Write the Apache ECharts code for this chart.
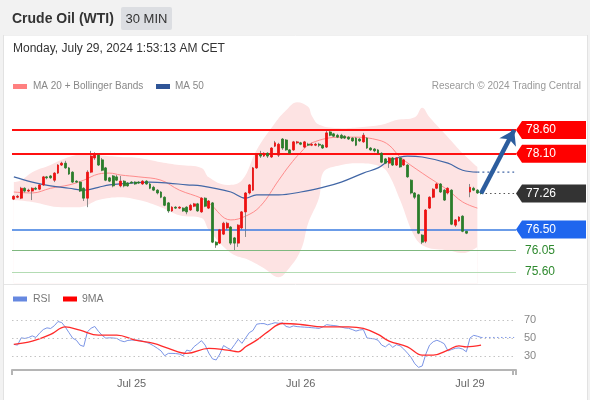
<!DOCTYPE html>
<html>
<head>
<meta charset="utf-8">
<script src="https://cdn.jsdelivr.net/npm/echarts@6/dist/echarts.min.js"></script>
<style>
  html, body { margin: 0; padding: 0; background: #f2f2f2; }
  #chart { width: 590px; height: 400px; }
</style>
</head>
<body>
<div id="chart"></div>
<script>
// 30 min candles, Jul 24 evening -> Jul 29 01:30 CET, plus empty slots for the projection
const slotCount = 137;
const dateTicks = { 32: 'Jul 25', 78: 'Jul 26', 124: 'Jul 29' };

// [open, close, low, high]
const candles = [
  [77.14,77.20,77.12,77.22],[77.18,77.20,77.16,77.23],[77.16,77.37,77.14,77.40],[77.37,77.31,77.28,77.39],
  [77.31,77.33,77.29,77.36],[77.31,77.37,77.12,77.39],[77.37,77.35,77.33,77.40],[77.35,77.44,77.33,77.46],
  [77.44,77.61,77.42,77.63],[77.61,77.59,77.56,77.63],[77.63,77.59,77.57,77.65],[77.54,77.69,77.50,77.71],
  [77.69,77.86,77.67,77.88],[77.86,77.90,77.84,77.93],[77.90,77.80,77.78,77.95],[77.80,77.67,77.65,77.82],
  [77.71,77.50,77.48,77.73],[77.52,77.50,77.48,77.54],[77.50,77.31,77.29,77.52],[77.37,77.16,77.10,77.39],
  [77.16,77.71,76.97,77.75],[77.71,78.05,77.69,78.16],[78.01,78.07,77.97,78.13],[78.07,77.86,77.84,78.09],
  [77.97,77.75,77.73,78.01],[77.80,77.54,77.52,77.82],[77.59,77.52,77.50,77.61],[77.63,77.42,77.39,77.65],
  [77.61,77.54,77.52,77.65],[77.42,77.52,77.39,77.63],[77.52,77.42,77.39,77.54],[77.48,77.42,77.40,77.50],
  [77.50,77.48,77.46,77.52],[77.50,77.46,77.44,77.52],[77.50,77.48,77.46,77.52],[77.46,77.52,77.44,77.54],
  [77.52,77.46,77.44,77.54],[77.46,77.37,77.35,77.48],[77.39,77.33,77.31,77.42],[77.33,77.27,77.24,77.35],
  [77.29,77.18,77.16,77.31],[77.18,77.01,76.99,77.20],[77.06,76.89,76.85,77.08],[76.89,76.97,76.87,76.99],
  [76.97,76.95,76.93,76.99],[76.95,76.97,76.93,76.99],[76.95,76.89,76.87,76.97],[76.97,76.87,76.82,76.99],
  [76.91,77.01,76.89,77.04],[76.99,77.04,76.97,77.06],[77.04,76.89,76.87,77.06],[76.87,77.16,76.85,77.18],
  [77.16,76.99,76.97,77.18],[76.95,77.10,76.93,77.12],[77.06,76.23,76.21,77.08],[76.23,76.17,76.11,76.25],
  [76.21,76.49,76.19,76.51],[76.40,76.63,76.38,76.66],[76.53,76.63,76.49,76.66],[76.55,76.21,76.17,76.57],
  [76.32,76.21,76.06,76.34],[76.21,76.59,76.13,76.61],[76.53,76.87,76.49,76.89],[76.87,77.27,76.34,77.29],
  [77.27,77.44,77.24,77.46],[77.33,77.80,77.31,77.82],[77.80,78.09,77.78,78.11],[78.09,78.05,78.01,78.16],
  [78.05,78.11,78.03,78.13],[78.11,78.05,78.01,78.13],[78.03,78.22,78.01,78.24],[78.26,78.33,78.24,78.37],
  [78.07,78.30,78.03,78.33],[78.41,78.22,78.18,78.43],[78.39,78.18,78.16,78.41],[78.18,78.11,78.09,78.20],
  [78.18,78.35,78.16,78.37],[78.33,78.35,78.30,78.37],[78.33,78.30,78.28,78.35],[78.24,78.35,78.22,78.37],
  [78.30,78.28,78.26,78.33],[78.28,78.30,78.26,78.33],[78.28,78.30,78.26,78.33],[78.30,78.28,78.24,78.33],
  [78.28,78.22,78.20,78.30],[78.24,78.54,78.22,78.58],[78.56,78.49,78.47,78.58],[78.52,78.47,78.45,78.54],
  [78.49,78.45,78.43,78.52],[78.49,78.43,78.41,78.52],[78.47,78.43,78.41,78.49],[78.45,78.41,78.39,78.47],
  [78.43,78.37,78.35,78.45],[78.43,78.28,78.26,78.45],[78.41,78.37,78.35,78.43],[78.35,78.49,78.33,78.54],
  [78.43,78.22,78.20,78.45],[78.22,78.18,78.16,78.24],[78.20,78.16,78.13,78.22],[78.18,78.11,78.09,78.20],
  [78.11,77.92,77.90,78.13],[77.99,77.90,77.88,78.01],[77.90,78.01,77.80,78.03],[78.01,77.86,77.84,78.03],
  [77.86,78.01,77.84,78.03],[78.01,77.82,77.80,78.03],[77.86,77.97,77.84,77.99],[77.86,77.61,77.59,77.88],
  [77.54,77.27,77.24,77.56],[77.27,77.18,77.14,77.29],[77.23,76.42,76.40,77.25],[76.38,76.23,76.19,76.40],
  [76.25,76.91,76.21,76.93],[76.95,77.18,76.93,77.20],[77.18,77.35,77.16,77.37],[77.37,77.46,77.35,77.48],
  [77.46,77.29,77.27,77.48],[77.33,77.12,77.10,77.35],[77.27,77.37,77.24,77.39],[77.33,76.61,76.59,77.35],
  [76.59,76.70,76.55,76.72],[76.68,76.76,76.66,76.78],[76.78,76.46,76.44,76.80],[76.46,76.42,76.40,76.47],
  [77.29,77.39,77.18,77.46],[77.37,77.33,77.31,77.40],[77.33,77.27,77.25,77.35],[77.27,77.26,77.24,77.28]
];

// [slot, value]
const bbUpper = [[0,77.50],[2,77.54],[5,77.71],[10,77.86],[13,77.97],[17,78.07],[21,78.11],[23,78.07],[29,78.03],
  [34,78.01],[40,77.92],[45,77.86],[51,77.80],[53,77.60],[58,77.44],[62,77.54],[66,78.18],[71,78.75],[74,79.02],
  [77,79.19],[80,79.09],[81,78.90],[83,78.71],[89,78.64],[94,78.66],[100,78.71],[104,78.81],[109,78.87],
  [111,79.07],[113,78.87],[118,78.45],[122,78.11],[126,77.82]];
const bbLower = [[0,77.12],[5,77.08],[13,76.97],[18,76.97],[23,77.12],[29,77.18],[34,77.12],[40,76.97],[45,76.80],
  [51,76.74],[53,76.49],[59,76.00],[64,75.85],[68,75.68],[72,75.49],[74,75.60],[78,76.06],[80,76.63],[83,77.18],
  [84,77.69],[89,77.86],[94,77.90],[100,77.82],[102,77.65],[105,77.12],[109,76.34],[112,76.13],[118,76.06],
  [122,76.00],[126,76.13]];
const ma20 = [[0,77.29],[5,77.27],[10,77.37],[15,77.44],[19,77.54],[23,77.67],[26,77.69],[29,77.65],[34,77.61],
  [40,77.54],[45,77.33],[51,77.16],[53,77.06],[59,76.70],[63,76.78],[67,76.99],[72,77.54],[75,77.86],[78,78.13],
  [81,78.33],[89,78.45],[93,78.45],[99,78.39],[102,78.28],[105,78.03],[111,77.69],[118,77.33],[122,77.08],[126,76.95]];
const ma50 = [[0,77.61],[5,77.50],[10,77.42],[15,77.37],[19,77.33],[23,77.39],[26,77.44],[32,77.48],[37,77.50],
  [42,77.48],[47,77.44],[51,77.42],[59,77.29],[63,77.16],[66,77.23],[72,77.23],[78,77.29],[84,77.39],[89,77.50],
  [95,77.69],[99,77.80],[102,77.95],[107,78.05],[111,78.03],[118,77.90],[122,77.75],[126,77.71]];
const ma50Last = 77.71;

const resistances = [78.60, 78.10];
const lastPrice = 77.26;
const pivot = 76.50;
const supports = [76.05, 75.60];

const rsi = [42.8,42.0,50.2,49.5,50.5,52.4,50.6,55.5,59.5,61.4,60.7,63.8,68.5,67.4,62.3,56.0,49.8,47.5,42.0,40.5,
  57.0,61.0,63.0,57.5,53.0,49.8,50.2,50.0,49.5,47.0,45.8,47.3,47.6,47.6,47.6,46.5,45.2,43.5,41.2,38.5,
  35.5,30.0,32.7,32.7,32.5,31.9,30.0,36.4,35.2,40.3,43.5,47.0,42.0,33.0,26.5,25.3,32.0,41.5,39.0,36.8,
  42.5,48.5,44.0,50.0,56.0,58.5,65.5,66.2,66.2,64.8,66.0,67.2,66.5,67.0,63.0,62.0,63.6,62.8,62.5,62.2,
  62.0,61.6,61.2,60.8,62.5,65.0,64.4,64.0,63.5,62.3,61.3,60.9,59.5,57.8,59.0,59.5,50.0,49.5,49.0,47.5,
  42.0,40.0,43.5,39.5,42.5,41.2,37.5,33.0,28.0,21.0,17.0,18.5,32.0,42.0,45.8,47.5,45.8,43.5,35.5,37.0,
  38.4,38.8,37.5,34.5,50.0,53.0,52.0,50.6];
const rsiMa9 = [[0,42.8],[5,46.5],[10,54.0],[14,62.5],[18,58.8],[23,53.2],[28,53.2],[33,47.6],[38,43.9],[42,38.3],
  [47,32.7],[53,38.3],[58,36.4],[61,34.5],[63,40.1],[66,47.6],[69,56.9],[73,66.3],[78,65.2],[84,62.5],[91,62.5],
  [95,60.7],[99,54.0],[102,46.5],[107,40.1],[111,30.8],[114,30.8],[118,36.4],[121,41.2],[123,40.1],[127,42.0]];
const rsiLevels = [70, 50, 30];

const FONT = '"Liberation Sans", Arial, sans-serif';
const UP = '#ee1111', DOWN = '#2b7d2b';

const categories = Array.from({ length: slotCount }, (_, i) => i);
const lastIdx = candles.length - 1;
const bodies = candles.map(d => [d[0], d[1], Math.min(d[0], d[1]), Math.max(d[0], d[1])]);

const chart = echarts.init(document.getElementById('chart'));

const option = {
  animation: false,
  grid: [
    { left: 12, width: 504, top: 99.3, height: 184.5 },
    { left: 12, width: 504, top: 306, height: 64 }
  ],
  xAxis: [
    { type: 'category', gridIndex: 0, data: categories, show: false },
    {
      type: 'category', gridIndex: 1, data: categories,
      axisLine: { lineStyle: { color: '#b5b5b5', width: 2 } },
      axisTick: { show: true, length: 5, interval: (i) => i === 0 || i === slotCount - 1, lineStyle: { color: '#b5b5b5', width: 2 } },
      axisLabel: {
        interval: (i) => dateTicks[i] !== undefined,
        formatter: (v, i) => dateTicks[i] || '',
        color: '#666', fontSize: 11, fontFamily: FONT, margin: 8
      }
    }
  ],
  yAxis: [
    { type: 'value', gridIndex: 0, min: 75.35, max: 79.25, show: false },
    { type: 'value', gridIndex: 1, min: 14, max: 86, show: false }
  ],
  series: [
    {
      name: 'bbUpper', type: 'line', data: bbUpper, smooth: 0.4, symbol: 'none',
      lineStyle: { width: 0 }, areaStyle: { color: '#fde3e3', opacity: 1, origin: 'start' }, z: 1
    },
    {
      name: 'bbLower', type: 'line', data: bbLower, smooth: 0.4, symbol: 'none',
      lineStyle: { width: 0 }, areaStyle: { color: '#ffffff', opacity: 1, origin: 'start' }, z: 1
    },
    {
      name: 'MA 20', type: 'line', data: ma20, smooth: 0.4, symbol: 'none',
      lineStyle: { color: '#ff8c8c', width: 1 }, z: 3
    },
    {
      name: 'MA 50', type: 'line', data: ma50, smooth: 0.4, symbol: 'none',
      lineStyle: { color: '#4267a6', width: 1.2 }, z: 3
    },
    {
      name: 'MA 50 ext', type: 'line', data: [[lastIdx - 1, ma50Last], [slotCount - 1, ma50Last]], symbol: 'none',
      lineStyle: { color: '#4267a6', width: 1.2, type: [2, 3] }, z: 3
    },
    {
      name: 'wicks', type: 'candlestick', data: candles, barWidth: 1,
      itemStyle: { color: '#8a8a8a', color0: '#8a8a8a', borderColor: '#8a8a8a', borderColor0: '#8a8a8a', borderWidth: 1 },
      markLine: {
        silent: true, symbol: ['none', 'none'], label: { show: false },
        data: [
          { yAxis: resistances[0], lineStyle: { color: '#ff1010', width: 2, type: 'solid' } },
          { yAxis: resistances[1], lineStyle: { color: '#ff1010', width: 2, type: 'solid' } },
          { yAxis: pivot, lineStyle: { color: '#3a7be0', width: 1.5, type: 'solid' } },
          { yAxis: supports[0], lineStyle: { color: '#7fb87f', width: 1, type: 'solid' } },
          { yAxis: supports[1], lineStyle: { color: '#b3dcb3', width: 1, type: 'solid' } },
          [{ coord: [lastIdx, lastPrice], lineStyle: { color: '#555', width: 1.2, type: [1.5, 3] } },
           { coord: [slotCount - 1, lastPrice] }]
        ]
      },
      z: 4
    },
    {
      name: 'bodies', type: 'candlestick', data: bodies, barWidth: 2.4,
      itemStyle: { color: UP, color0: DOWN, borderColor: UP, borderColor0: DOWN, borderWidth: 0.8 },
      z: 5
    },
    {
      name: 'forecast', type: 'lines', coordinateSystem: 'cartesian2d', xAxisIndex: 0, yAxisIndex: 0,
      symbol: ['none', 'arrow'], symbolSize: 14,
      lineStyle: { color: '#2c5d9e', width: 4.5, opacity: 1, curveness: 0 },
      data: [{ coords: [[lastIdx, lastPrice], [slotCount - 1, resistances[0]]] }],
      z: 6
    },
    {
      name: 'RSI', type: 'line', xAxisIndex: 1, yAxisIndex: 1, data: rsi, symbol: 'none',
      lineStyle: { color: '#7b95e6', width: 1 }, z: 3,
      markLine: {
        silent: true, symbol: ['none', 'none'],
        lineStyle: { color: '#c4c4c4', width: 1, type: [1.5, 3] },
        label: { show: true, position: 'end', distance: 8, color: '#888', fontSize: 11, fontFamily: FONT, formatter: '{c}' },
        data: rsiLevels.map(v => ({ yAxis: v }))
      }
    },
    {
      name: 'RSI ext', type: 'line', xAxisIndex: 1, yAxisIndex: 1,
      data: [[lastIdx, rsi[lastIdx]], [slotCount - 1, rsi[lastIdx]]], symbol: 'none',
      lineStyle: { color: '#7b95e6', width: 1, type: [1.5, 2.5] }, z: 3
    },
    {
      name: '9MA', type: 'line', xAxisIndex: 1, yAxisIndex: 1, data: rsiMa9, smooth: 0.4, symbol: 'none',
      lineStyle: { color: '#ff2a2a', width: 1.3 }, z: 4
    }
  ]
};

chart.setOption(option);

function priceTag(price, fill) {
  const y = chart.convertToPixel({ yAxisIndex: 0 }, price);
  return [
    { type: 'polygon', z: 100, shape: { points: [[516, y], [522, y - 9], [586, y - 9], [586, y + 9], [522, y + 9]] }, style: { fill: fill } },
    { type: 'text', z: 101, x: 526, y: y, style: { text: price.toFixed(2), fill: '#fff', font: '12px ' + FONT, verticalAlign: 'middle' } }
  ];
}
function priceText(price) {
  const y = chart.convertToPixel({ yAxisIndex: 0 }, price);
  return { type: 'text', z: 101, x: 525, y: y, style: { text: price.toFixed(2), fill: '#2f8a2f', font: '12px ' + FONT, verticalAlign: 'middle' } };
}

const elements = [
  // panel
  { type: 'rect', z: -10, shape: { x: 3.5, y: 35, width: 584, height: 366 }, style: { fill: '#fff', stroke: '#e2e2e2', lineWidth: 1 } },
  { type: 'rect', z: -10, shape: { x: 0, y: 0, width: 590, height: 35 }, style: { fill: '#f2f2f2' } },
  { type: 'line', z: 50, shape: { x1: 4, y1: 284.5, x2: 587, y2: 284.5 }, style: { stroke: '#e6e6e6', lineWidth: 1 } },
  // header
  { type: 'text', z: 50, x: 12, y: 19.5, style: { text: 'Crude Oil (WTI)', fill: '#333', font: 'bold 14px ' + FONT, verticalAlign: 'middle' } },
  { type: 'rect', z: 50, shape: { x: 121, y: 7, width: 51, height: 23, r: 2 }, style: { fill: '#dcdee2' } },
  { type: 'text', z: 51, x: 146.5, y: 19, style: { text: '30 MIN', fill: '#333', font: '13px ' + FONT, align: 'center', verticalAlign: 'middle' } },
  { type: 'text', z: 50, x: 13, y: 49, style: { text: 'Monday, July 29, 2024 1:53:13 AM CET', fill: '#333', font: '12px ' + FONT, verticalAlign: 'middle' } },
  // legend
  { type: 'rect', z: 50, shape: { x: 13, y: 84, width: 14, height: 5 }, style: { fill: '#ff8080' } },
  { type: 'text', z: 50, x: 33, y: 86.5, style: { text: 'MA 20 + Bollinger Bands', fill: '#888', font: '10px ' + FONT, verticalAlign: 'middle' } },
  { type: 'rect', z: 50, shape: { x: 156, y: 84, width: 14, height: 5 }, style: { fill: '#2f5597' } },
  { type: 'text', z: 50, x: 175, y: 86.5, style: { text: 'MA 50', fill: '#888', font: '10px ' + FONT, verticalAlign: 'middle' } },
  { type: 'text', z: 50, x: 581, y: 86.5, style: { text: 'Research \u00a9 2024 Trading Central', fill: '#999', font: '10px ' + FONT, align: 'right', verticalAlign: 'middle' } },
  { type: 'rect', z: 50, shape: { x: 13, y: 296.5, width: 14, height: 5 }, style: { fill: '#6688e0' } },
  { type: 'text', z: 50, x: 33, y: 299, style: { text: 'RSI', fill: '#777', font: '10.5px ' + FONT, verticalAlign: 'middle' } },
  { type: 'rect', z: 50, shape: { x: 63, y: 296.5, width: 14, height: 5 }, style: { fill: '#ff0000' } },
  { type: 'text', z: 50, x: 82, y: 299, style: { text: '9MA', fill: '#777', font: '10.5px ' + FONT, verticalAlign: 'middle' } }
].concat(
  priceTag(resistances[0], '#ff0000'),
  priceTag(resistances[1], '#ff0000'),
  priceTag(lastPrice, '#333333'),
  priceTag(pivot, '#1f66ee'),
  supports.map(priceText)
);

chart.setOption({ graphic: { elements: elements } });
</script>
</body>
</html>
